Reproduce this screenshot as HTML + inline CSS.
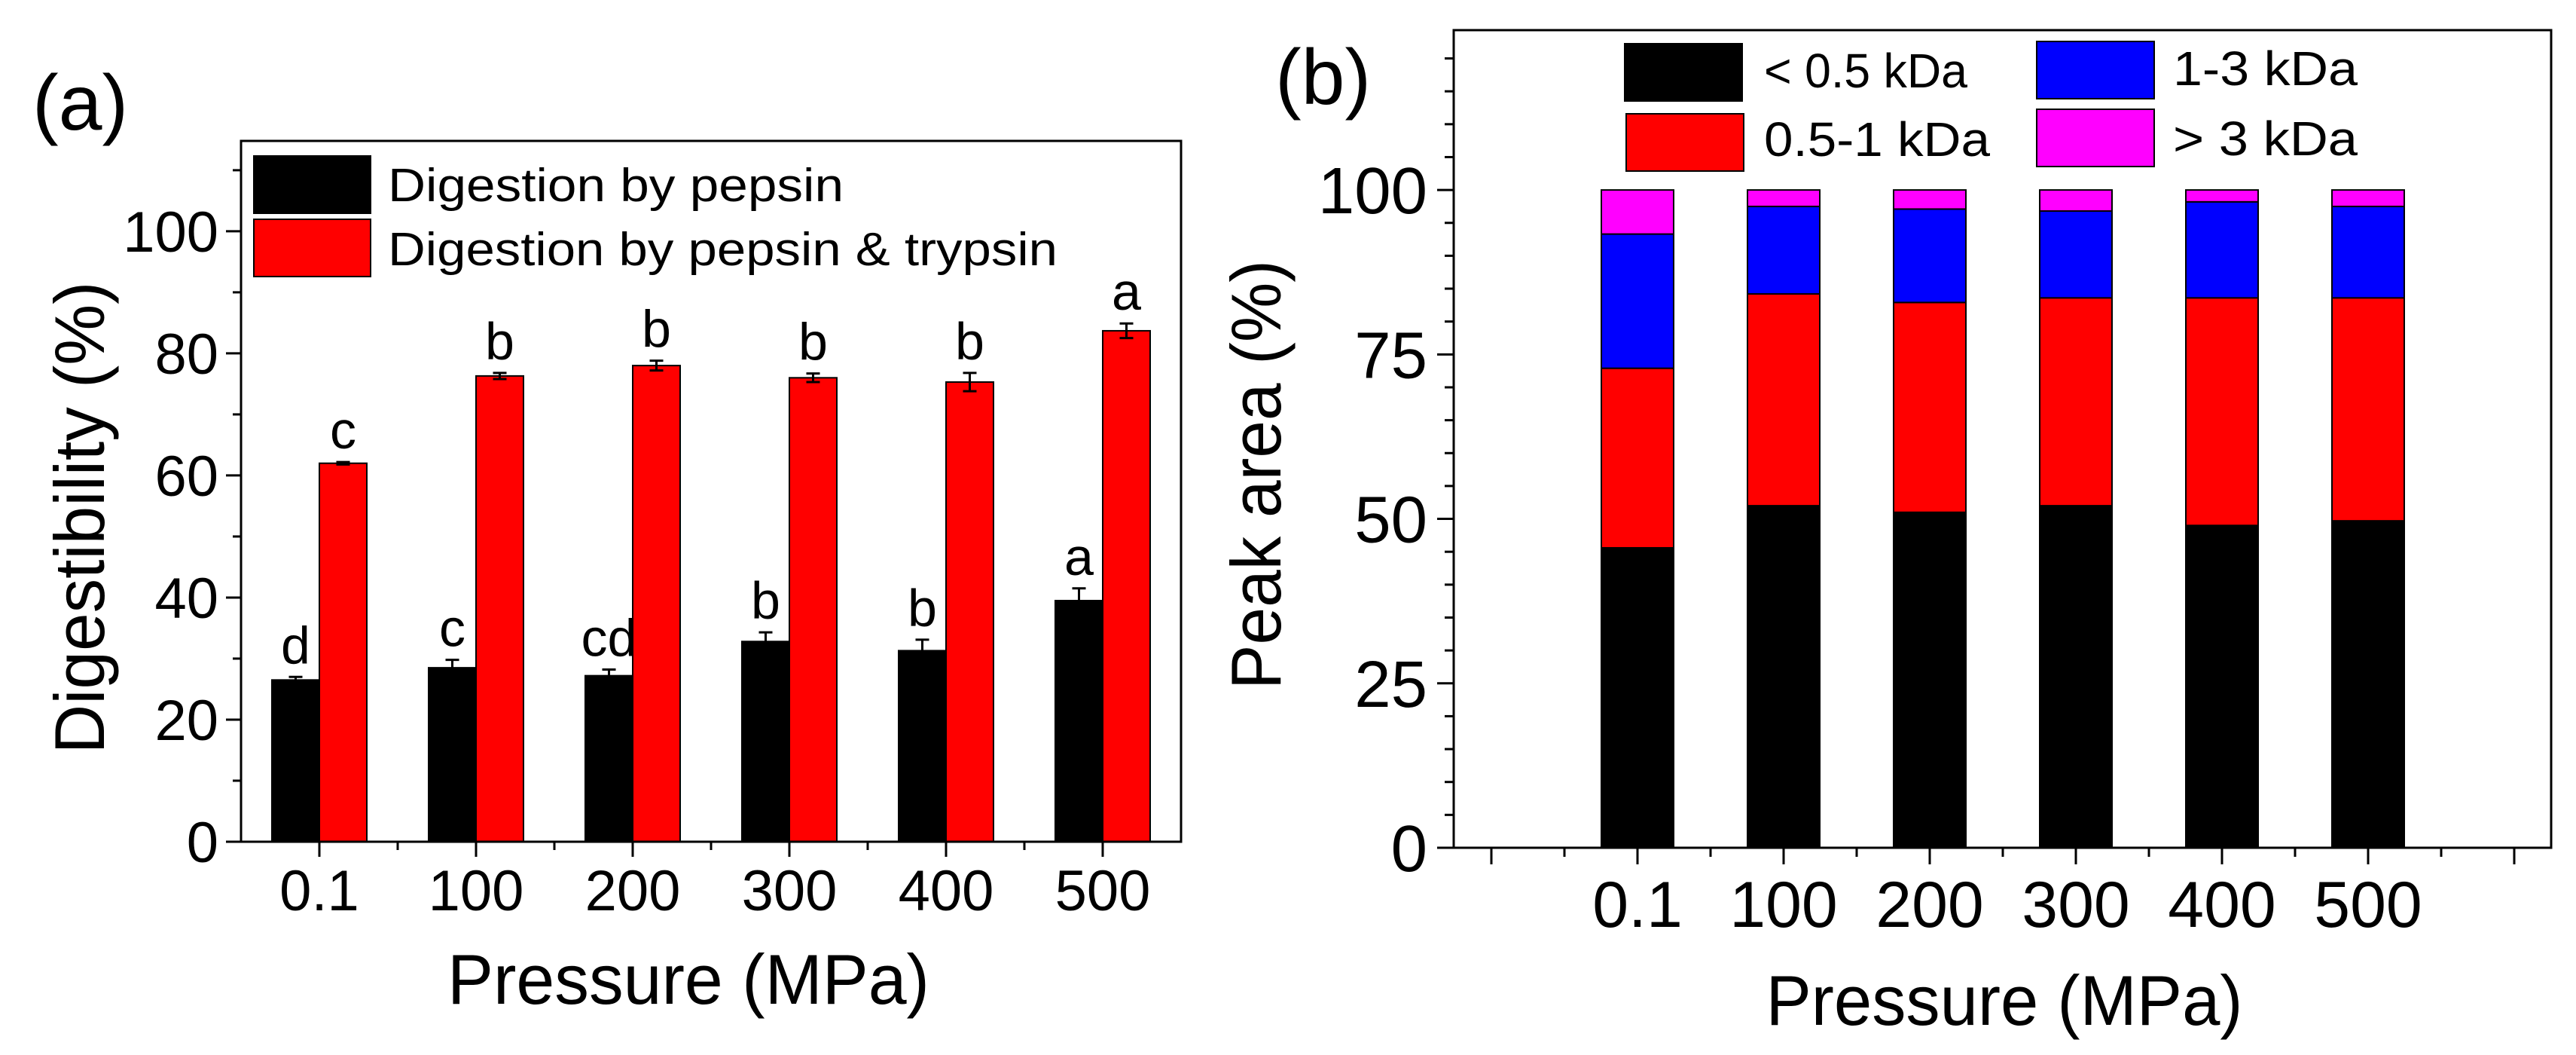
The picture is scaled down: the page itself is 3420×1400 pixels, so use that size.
<!DOCTYPE html>
<html><head><meta charset="utf-8"><style>
html,body{margin:0;padding:0;background:#fff}
svg text{font-family:"Liberation Sans",Arial,sans-serif;fill:#000}
</style></head><body>
<svg id="fig" width="3420" height="1395" viewBox="0 0 3420 1395">
<g id="pa"></g>
<g id="pb"></g>
</svg>
<script>
const categories=["0.1","100","200","300","400","500"];
const pepsinVals=[26.5,28.5,27.2,32.8,31.3,39.5];
const pepsinErr=[0.5,1.3,1.0,1.5,1.8,2.0];
const pepsinLetters=["d","c","cd","b","b","a"];
const trypsinVals=[62,76.3,78,76,75.3,83.7];
const trypsinErr=[0.2,0.5,0.8,0.7,1.5,1.2];
const trypsinLetters=["c","b","b","b","b","a"];
const yTicksA=[0,20,40,60,80,100];
const seg05=[45.6,52,51,52,49,49.7];
const seg05to1=[27.3,32.2,31.9,31.6,34.6,33.9];
const seg1to3=[20.4,13.3,14.2,13.2,14.6,13.9];
const seg3=[6.7,2.5,2.9,3.2,1.8,2.5];
const yTicksB=[0,25,50,75,100];
const NS="http://www.w3.org/2000/svg";
function mk(p,tag,at,txt){const e=document.createElementNS(NS,tag);for(const k in at)e.setAttribute(k,at[k]);if(txt!=null)e.textContent=txt;p.appendChild(e);return e;}

// ---------- Panel A ----------
const A=document.getElementById('pa');
const aL=320,aR=1568,aT=187,aB=1117,aYmax=114.8;
const ay=v=>aB-(aB-aT)*v/aYmax;
const ax=i=>aL+(aR-aL)*(i+0.5)/6;
const bw=63;
let t;
t=mk(A,'text',{x:43,y:172,'font-size':104},"(a)");

categories.forEach((c,i)=>{
  const xc=ax(i);
  let r=mk(A,'rect',{x:xc-bw,y:ay(pepsinVals[i]),width:bw,height:aB-ay(pepsinVals[i]),fill:'#000',stroke:'#000','stroke-width':2});
  
  r=mk(A,'rect',{x:xc,y:ay(trypsinVals[i]),width:bw,height:aB-ay(trypsinVals[i]),fill:'#f00',stroke:'#000','stroke-width':2});
  
  [[xc-bw/2,pepsinVals[i],pepsinErr[i],pepsinLetters[i]],[xc+bw/2,trypsinVals[i],trypsinErr[i],trypsinLetters[i]]].forEach(([cx,v,e,l],k)=>{
    const g=mk(A,'g',{stroke:'#000','stroke-width':3});
    
    mk(g,'line',{x1:cx,x2:cx,y1:ay(v+e),y2:ay(v-e)});
    mk(g,'line',{x1:cx-9,x2:cx+9,y1:ay(v+e),y2:ay(v+e)});
    mk(g,'line',{x1:cx-9,x2:cx+9,y1:ay(v-e),y2:ay(v-e)});
    const tt=mk(A,'text',{x:cx,y:ay(v+e)-18,'font-size':70,'text-anchor':'middle'},l);
    
  });
  const tl=mk(A,'text',{x:xc,y:1208,'font-size':76,'text-anchor':'middle'},c);
  
  mk(A,'line',{x1:xc,x2:xc,y1:aB,y2:aB+20,stroke:'#000','stroke-width':3});
  if(i<5)mk(A,'line',{x1:xc+(aR-aL)/12,x2:xc+(aR-aL)/12,y1:aB,y2:aB+11,stroke:'#000','stroke-width':3});
});
for(let v=0;v<=110;v+=10){mk(A,'line',{x1:aL,x2:aL-(v%20==0?20:11),y1:ay(v),y2:ay(v),stroke:'#000','stroke-width':3});}
yTicksA.forEach(v=>{const tl=mk(A,'text',{x:290,y:ay(v)+27,'font-size':76,'text-anchor':'end'},v);
 });
t=mk(A,'rect',{x:aL,y:aT,width:aR-aL,height:aB-aT,fill:'none',stroke:'#000','stroke-width':3});

t=mk(A,'text',{x:0,y:0,'font-size':94,'text-anchor':'middle',transform:'translate(138,687) rotate(-90)',textLength:627,lengthAdjust:'spacingAndGlyphs'},"Digestibility (%)");

t=mk(A,'text',{x:914,y:1332,'font-size':94,'text-anchor':'middle',textLength:640,lengthAdjust:'spacingAndGlyphs'},"Pressure (MPa)");

let lg=mk(A,'g',{});
let e1=mk(lg,'rect',{x:337,y:207,width:155,height:76,fill:'#000',stroke:'#000','stroke-width':2});

e1=mk(lg,'text',{x:515,y:267,'font-size':62,textLength:605,lengthAdjust:'spacingAndGlyphs'},"Digestion by pepsin");

e1=mk(lg,'rect',{x:337,y:291,width:155,height:76,fill:'#f00',stroke:'#000','stroke-width':2});

e1=mk(lg,'text',{x:515,y:352,'font-size':62,textLength:889,lengthAdjust:'spacingAndGlyphs'},"Digestion by pepsin & trypsin");


// ---------- Panel B ----------
const B=document.getElementById('pb');
const bL=1930,bR=3387,bT=40,bB=1125;
const bYmax=124.3;
const by=v=>bB-(bB-bT)*v/bYmax;
const bx=i=>2174+194*i;
const bbw=96;
t=mk(B,'text',{x:1693,y:138,'font-size':104},"(b)");

const segs=[[seg05,'#000','lt-0.5kDa'],[seg05to1,'#f00','0.5-1kDa'],[seg1to3,'#00f','1-3kDa'],[seg3,'#f0f','gt-3kDa']];
categories.forEach((c,i)=>{
  let base=0;
  segs.forEach(([arr,col,nm])=>{
    const v=arr[i];
    const r=mk(B,'rect',{x:bx(i)-bbw/2,y:by(base+v),width:bbw,height:by(base)-by(base+v),fill:col,stroke:'#000','stroke-width':2});
    
    base+=v;
  });
  const tl=mk(B,'text',{x:bx(i),y:1230,'font-size':86,'text-anchor':'middle'},c);
  
});
for(let i=-1;i<=6;i++){mk(B,'line',{x1:bx(i),x2:bx(i),y1:bB,y2:bB+22,stroke:'#000','stroke-width':3});
 if(i<6)mk(B,'line',{x1:bx(i)+97,x2:bx(i)+97,y1:bB,y2:bB+12,stroke:'#000','stroke-width':3});}
for(let v=0;v<=120;v+=5){mk(B,'line',{x1:bL,x2:bL-(v%25==0?22:12),y1:by(v),y2:by(v),stroke:'#000','stroke-width':3});}
yTicksB.forEach(v=>{const tl=mk(B,'text',{x:1895,y:by(v)+31,'font-size':87,'text-anchor':'end'},v);
 });
t=mk(B,'rect',{x:bL,y:bT,width:bR-bL,height:bB-bT,fill:'none',stroke:'#000','stroke-width':3});

t=mk(B,'text',{x:0,y:0,'font-size':94,'text-anchor':'middle',transform:'translate(1700,630) rotate(-90)',textLength:570,lengthAdjust:'spacingAndGlyphs'},"Peak area (%)");

t=mk(B,'text',{x:2661,y:1360,'font-size':94,'text-anchor':'middle',textLength:633,lengthAdjust:'spacingAndGlyphs'},"Pressure (MPa)");

lg=mk(B,'g',{});
const leg=[[2157,58,'#000',2342,116,'< 0.5 kDa',270],[2159,151,'#f00',2342,207,'0.5-1 kDa',300],[2704,55,'#00f',2885,113,'1-3 kDa',245],[2704,145,'#f0f',2885,206,'> 3 kDa',245]];
leg.forEach(([x,y,col,tx,ty,txt,tw])=>{
  const r=mk(lg,'rect',{x:x,y:y,width:156,height:76,fill:col,stroke:'#000','stroke-width':2});
  
  const tt=mk(lg,'text',{x:tx,y:ty,'font-size':64,textLength:tw,lengthAdjust:'spacingAndGlyphs'},txt);
  
});
</script>
</body></html>
